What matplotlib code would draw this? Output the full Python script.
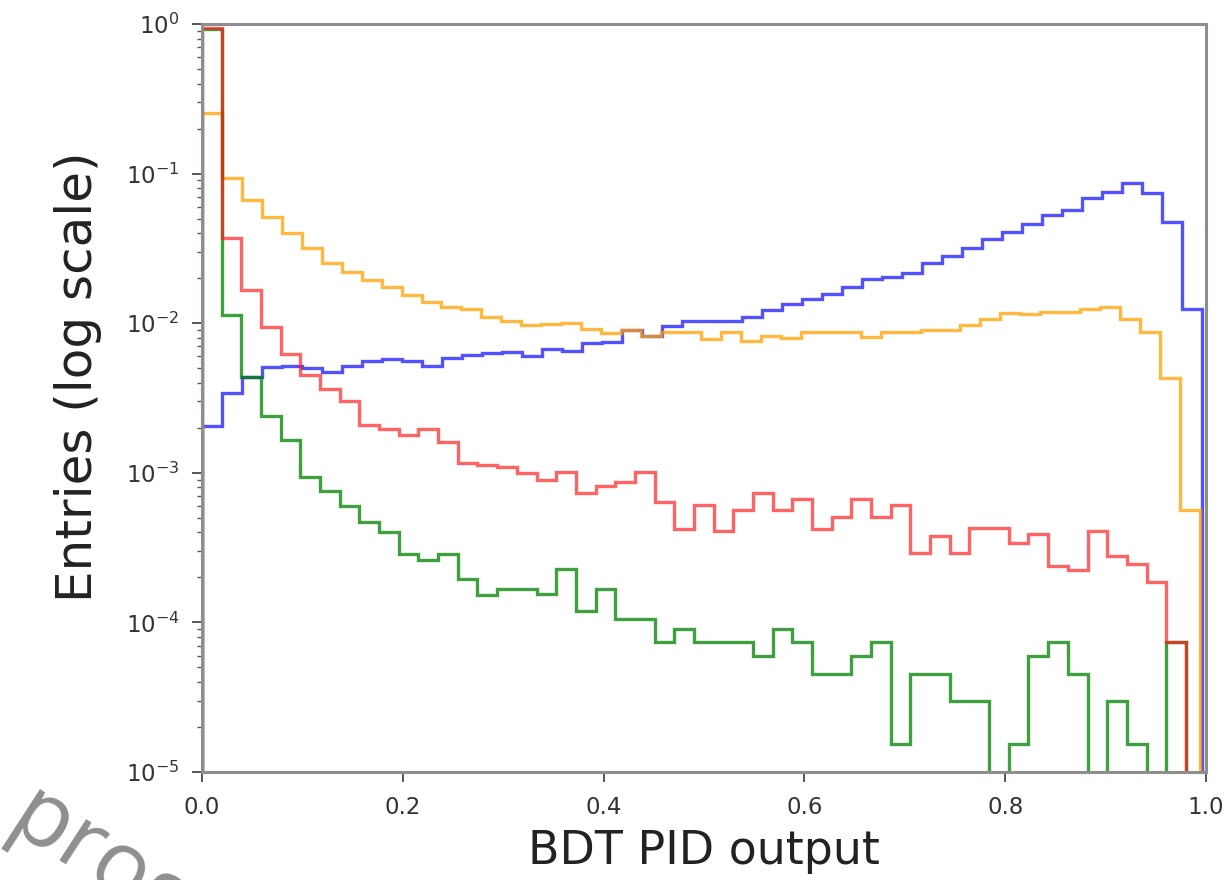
import numpy as np
import matplotlib
matplotlib.use("Agg")
import matplotlib.pyplot as plt

# ---- data (fractions per bin) ----
blue = [0.00205, 0.0034, 0.0044, 0.0051, 0.0052, 0.0050, 0.0047, 0.0052, 0.0056, 0.0058,
        0.0056, 0.0052, 0.0059, 0.0061, 0.0063, 0.0064, 0.0060, 0.0067, 0.0065, 0.0074,
        0.0075, 0.0090, 0.0082, 0.0096, 0.0104, 0.0104, 0.0104, 0.0110, 0.0122, 0.0135,
        0.0146, 0.0158, 0.0175, 0.0197, 0.0205, 0.0215, 0.0251, 0.0281, 0.0316, 0.0363,
        0.0408, 0.0459, 0.0527, 0.0570, 0.0682, 0.0755, 0.0859, 0.0744, 0.0476, 0.0125]

orange = [0.255, 0.093, 0.0665, 0.0514, 0.040, 0.0316, 0.0251, 0.022, 0.0194, 0.0175,
          0.0154, 0.0139, 0.0129, 0.0124, 0.0110, 0.0104, 0.0097, 0.0099, 0.0101, 0.0092,
          0.0086, 0.0090, 0.0082, 0.0087, 0.0087, 0.0078, 0.0087, 0.0076, 0.0082, 0.0080,
          0.0087, 0.0087, 0.0087, 0.0081, 0.0088, 0.0088, 0.0090, 0.0090, 0.0098, 0.0107,
          0.0117, 0.0115, 0.0118, 0.0119, 0.0124, 0.0128, 0.0107, 0.0087, 0.0043, 0.00056]

red = [0.94, 0.0374, 0.0166, 0.00945, 0.0062, 0.0045, 0.00366, 0.0030, 0.0021, 0.00197,
       0.00178, 0.00197, 0.0016, 0.00117, 0.00113, 0.00110, 0.00099, 0.00089, 0.00101, 0.00073,
       0.00082, 0.00087, 0.00101, 0.00064, 0.00042, 0.00061, 0.00041, 0.00056, 0.00073, 0.00056,
       0.00067, 0.00042, 0.00051, 0.00067, 0.00051, 0.00061, 0.00029, 0.00038, 0.00029, 0.00043,
       0.00043, 0.00034, 0.00039, 0.00024, 0.000223, 0.00041, 0.00028, 0.000247, 0.000185, 0.000074]

green = [0.93, 0.0113, 0.0044, 0.00241, 0.00165, 0.00094, 0.00076, 0.00060, 0.00047, 0.00040,
         0.000288, 0.00026, 0.000288, 0.000196, 0.000152, 0.000168, 0.000168, 0.000155, 0.000229, 0.00012,
         0.000168, 0.000106, 0.000106, 0.0000745, 0.000091, 0.0000745, 0.0000745, 0.0000745, 0.00006, 0.000091,
         0.0000745, 0.000045, 0.000045, 0.00006, 0.0000745, 0.0000155, 0.000045, 0.000045, 0.00003, 0.00003,
         0.0, 0.0000155, 0.00006, 0.0000745, 0.000045, 0.0, 0.00003, 0.0000155, 0.0, 0.0000745]

# upper end of each series' binning range (50 bins from 0)
blue_max = 0.996
orange_max = 0.994
red_max = 0.980
green_max = 0.980

x_ticks = [0.0, 0.2, 0.4, 0.6, 0.8, 1.0]
x_label = "BDT PID output"
y_label = "Entries (log scale)"
watermark = "progress"

# ---- figure ----
fig = plt.figure(figsize=(12.24, 8.8), dpi=100)
ax = fig.add_axes([0.165, 0.1227, 0.8203, 0.85])

series = [
    (blue, blue_max, "#0000ff", 0.68),
    (orange, orange_max, "#ffa000", 0.75),
    (green, green_max, "#008000", 0.75),
    (red, red_max, "#ff1a1a", 0.68),
]
floor = 1e-12
for vals, hi, col, a in series:
    v = np.asarray(vals, dtype=float)
    edges = np.linspace(0.0, hi, len(v) + 1)
    ax.stairs(np.maximum(v, floor), edges, baseline=floor,
              color=col, alpha=a, linewidth=2.4)

ax.set_yscale("log")
ax.set_ylim(1e-5, 1.0)
ax.set_xlim(0.0, 1.0)
ax.set_xticks(x_ticks)

for s in ax.spines.values():
    s.set_color("#8e8e8e")
    s.set_linewidth(2.2)

ax.tick_params(axis="both", which="major", labelsize=16.5, length=7, width=1.4,
               color="#555555", labelcolor="#333333")
ax.tick_params(axis="x", which="major", pad=10)
ax.tick_params(axis="y", which="major", pad=9)
ax.tick_params(axis="y", which="minor", length=3.5, width=1.0, color="#555555")

ax.set_xlabel(x_label, fontsize=33, color="#222222")
ax.set_ylabel(y_label, fontsize=36, color="#222222")
ax.xaxis.set_label_coords(0.5, -0.076)
ax.yaxis.set_label_coords(-0.100, 0.529)

fig.text(4 / 1224, 50 / 880, watermark, rotation=-33, rotation_mode="anchor",
         ha="left", va="baseline", fontsize=66, color="#8f8f8f",
         family="Open Sans")

fig.savefig("out.png", dpi=100)
